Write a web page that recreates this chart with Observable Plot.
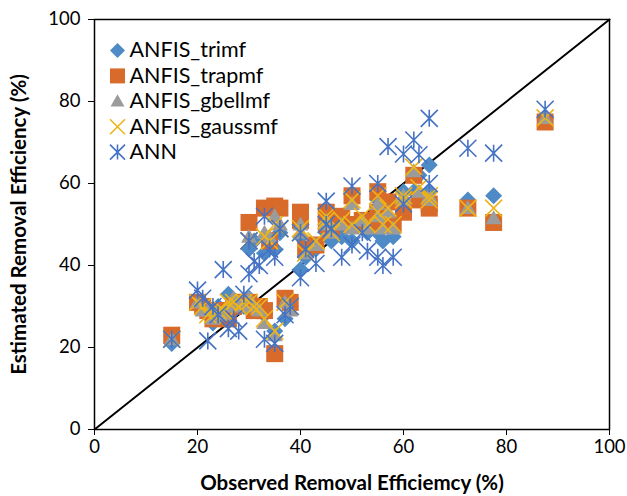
<!DOCTYPE html>
<html>
<head>
<meta charset="utf-8">
<script src="https://cdn.jsdelivr.net/npm/d3@7"></script>
<script src="https://cdn.jsdelivr.net/npm/@observablehq/plot@0.6"></script>
<style>
  html, body { margin: 0; padding: 0; background: #fff; }
  #chart svg [aria-label="x-axis label"] text,
  #chart svg [aria-label="y-axis label"] text { font-weight: bold; font-size: 20.5px; }
</style>
</head>
<body>
<div id="chart"></div>
<script>
// ---- data ----
const seriesNames = ["ANFIS_trimf", "ANFIS_trapmf", "ANFIS_gbellmf", "ANFIS_gaussmf", "ANN"];
const xTicks = [0, 20, 40, 60, 80, 100];
const yTicks = [0, 20, 40, 60, 80, 100];

const observed = [15, 20, 21, 22, 23, 24, 25, 26, 27, 28, 29, 30, 30, 31, 32, 33, 33, 34, 35, 35, 36, 37, 38, 40, 40, 41, 43, 45, 45, 46, 48, 50, 50, 52, 53, 55, 55, 56, 57, 58, 60, 60, 62, 63, 65, 65, 72.5, 77.5, 87.5];
const trimf   = [21, 31, 30, 28, 26, 30, 29, 33, 31, 31, 30, 44, 32, 46, 30, 43, 28, 45, 44, 24, 48, 27, 30, 39, 47, 42, 44, 48, 52, 46, 47, 46, 50, 50, 48, 48, 56, 46, 52, 47, 55, 58, 58, 62, 64.5, 58, 56, 57, 76];
const trapmf  = [23, 31, 30, 29, 27, 29, 28, 27, 30, 31, 31, 50.5, 31, 29, 30, 54, 29, 46, 54.5, 18.5, 54, 32, 31, 53, 51, 44, 45, 53, 50, 49, 52, 57, 50, 51, 50, 58, 53, 51, 55.5, 50, 53, 54, 62, 56, 54, 55, 54, 50.5, 75];
const gbellmf = [22, 31, 29, 29, 27, 29, 28, 30, 32, 31, 30, 47, 32, 30, 29, 48, 26, 47, 52, 23, 50, 31, 29, 50, 48, 43, 45, 50, 51, 48, 50, 55, 49, 51, 49, 55, 52, 49, 53, 49, 56, 57, 63, 58, 56, 57, 54, 51.5, 76];
const gaussmf = [22, 31, 30, 28, 28, 29, 29, 31, 31, 30, 31, 46, 31, 30, 30, 47, 27, 46, 50, 24, 49, 31, 30, 49, 48, 43, 46, 51, 52, 48, 51, 56, 50, 52, 50, 57, 53, 50, 54, 50, 57, 56, 64, 59, 57, 56, 54, 54, 76];
const ann     = [22, 34, 32, 21.6, 30, 28, 39, 24.6, 27, 24, 33, 46, 38, 41, 40, 52, 22, 44, 42, 21, 49, 28, 30, 48, 37, 44, 40.5, 55.7, 50, 49, 42, 59.4, 45, 48, 43.5, 60, 42, 40, 69, 42, 67.2, 55, 70.6, 67, 75.9, 60, 68.6, 67.4, 78.1];

// ---- styling ----
const colors = ["#4e8ac6", "#d86a2a", "#9b9b9b", "#eeb417", "#4472c4"];

const rad = (size) => Math.sqrt(size / Math.PI);
const diamondSym = {draw(c, s) { const r = rad(s); c.moveTo(0, -r); c.lineTo(r, 0); c.lineTo(0, r); c.lineTo(-r, 0); c.closePath(); }};
const squareSym = {draw(c, s) { const r = rad(s); c.rect(-r, -r, 2 * r, 2 * r); }};
const triangleSym = {draw(c, s) { const r = rad(s); c.moveTo(0, -r); c.lineTo(r, r * 0.75); c.lineTo(-r, r * 0.75); c.closePath(); }};
const timesSym = {draw(c, s) { const r = rad(s); c.moveTo(-r, -r); c.lineTo(r, r); c.moveTo(-r, r); c.lineTo(r, -r); }};
const asteriskSym = {draw(c, s) { const r = rad(s); c.moveTo(-r, -r); c.lineTo(r, r); c.moveTo(-r, r); c.lineTo(r, -r); c.moveTo(0, -r); c.lineTo(0, r); }};

const symbols = [diamondSym, squareSym, triangleSym, timesSym, asteriskSym];
const filled = [true, true, true, false, false];
const radii = [8.5, 8.5, 8, 8.5, 8.5];
const values = [trimf, trapmf, gbellmf, gaussmf, ann];

const seriesMarks = values.map((vals, i) => {
  const rows = observed.map((x, j) => ({x, y: vals[j]}));
  const opts = {x: "x", y: "y", symbol: symbols[i], r: radii[i]};
  if (filled[i]) { opts.fill = colors[i]; opts.stroke = "none"; }
  else { opts.fill = "none"; opts.stroke = colors[i]; opts.strokeWidth = 1.6; }
  return Plot.dot(rows, opts);
});

const legendMarks = seriesNames.flatMap((name, i) => {
  const dy = 31 + i * 25.4;
  const dotOpts = {frameAnchor: "top-left", dx: 23, dy, symbol: symbols[i], r: radii[i] - 1};
  if (filled[i]) { dotOpts.fill = colors[i]; dotOpts.stroke = "none"; }
  else { dotOpts.fill = "none"; dotOpts.stroke = colors[i]; dotOpts.strokeWidth = 1.6; }
  return [
    Plot.dot([name], dotOpts),
    Plot.text([name], {frameAnchor: "top-left", dx: 35, dy, text: d => d, textAnchor: "start", lineAnchor: "middle", fontSize: 21.5, fill: "#000"})
  ];
});

const diag = [{x: 0, y: 0}, {x: 100, y: 100}];

const chart = Plot.plot({
  width: 627,
  height: 496,
  marginTop: 19,
  marginRight: 18,
  marginBottom: 67,
  marginLeft: 94,
  style: {fontFamily: "Lato, 'Open Sans', sans-serif", fontSize: "18.5px", color: "#000", background: "#fff"},
  x: {domain: [0, 100]},
  y: {domain: [0, 100]},
  marks: [
    Plot.line(diag, {x: "x", y: "y", stroke: "#000", strokeWidth: 2}),
    ...seriesMarks,
    Plot.frame({stroke: "#000", strokeWidth: 1.5}),
    Plot.axisX({ticks: xTicks, tickSize: 6, tickPadding: 4, tickFormat: d => String(d), label: "Observed Removal Efficiemcy (%)", labelAnchor: "center", labelArrow: "none", labelOffset: 60, fontSize: 18.5}),
    Plot.axisY({ticks: yTicks, tickSize: 6, tickPadding: 8, tickFormat: d => String(d), label: "Estimated Removal Efficiency (%)", labelAnchor: "center", labelArrow: "none", labelOffset: 83, fontSize: 18.5}),
    ...legendMarks
  ]
});
document.getElementById("chart").appendChild(chart);
</script>
</body>
</html>
